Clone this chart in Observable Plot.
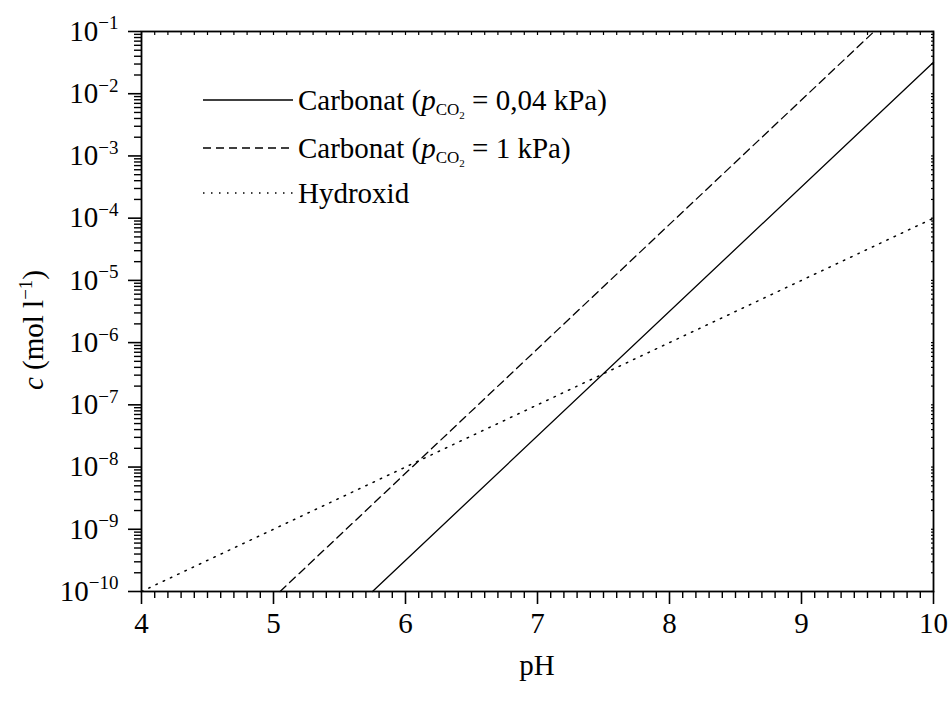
<!DOCTYPE html>
<html>
<head>
<meta charset="utf-8">
<script src="https://cdn.jsdelivr.net/npm/d3@7"></script>
<script src="https://cdn.jsdelivr.net/npm/@observablehq/plot@0.6"></script>
<style>
  html, body { margin: 0; padding: 0; background: #fff; }
  #chart { position: relative; width: 950px; height: 707px; }
  svg { font-family: "Liberation Serif", "DejaVu Serif", serif; }
</style>
</head>
<body>
<div id="chart"></div>
<script>
// Data (pH vs concentration c in mol/l)
const solidPH = [5.75, 10.0];
const solidC = [1e-10, 3.2e-2];
const dashedPH = [5.05, 9.55];
const dashedC = [1e-10, 1e-1];
const dottedPH = [4.0, 10.0];
const dottedC = [1e-10, 1e-4];

const seriesNames = ["Carbonat (pCO2 = 0,04 kPa)", "Carbonat (pCO2 = 1 kPa)", "Hydroxid"];
const xTicks = [4, 5, 6, 7, 8, 9, 10];
const yExponents = [-10, -9, -8, -7, -6, -5, -4, -3, -2, -1];

const toRows = (xs, ys) => xs.map((x, i) => ({pH: x, c: ys[i]}));
const solid = toRows(solidPH, solidC);
const dashed = toRows(dashedPH, dashedC);
const dotted = toRows(dottedPH, dottedC);

const majorY = yExponents.map(e => Math.pow(10, e));
const minorY = [];
for (const e of yExponents.slice(0, -1)) for (let k = 2; k <= 9; k++) minorY.push(k * Math.pow(10, e));
const minorX = [];
for (let i = 0; i <= 60; i++) { const v = 4 + i / 10; if (i % 10 !== 0) minorX.push(+v.toFixed(1)); }
const allX = minorX.concat(xTicks);
const allY = minorY.concat(majorY);

const W = 950, H = 707;
const fs = 29;
const sup = 19;

const plot = Plot.plot({
  width: W,
  height: H,
  marginLeft: 141,
  marginRight: 17,
  marginTop: 31,
  marginBottom: 116,
  style: {fontFamily: '"Liberation Serif", serif', fontSize: fs + "px", color: "#000", background: "#fff", overflow: "visible"},
  x: {domain: [4, 10]},
  y: {type: "log", domain: [1e-10, 1e-1]},
  marks: [
    Plot.line(solid, {x: "pH", y: "c", stroke: "#000", strokeWidth: 1.3}),
    Plot.line(dashed, {x: "pH", y: "c", stroke: "#000", strokeWidth: 1.3, strokeDasharray: "8,5"}),
    Plot.line(dotted, {x: "pH", y: "c", stroke: "#000", strokeWidth: 1.5, strokeDasharray: "1.5,6.5"}),
    // bottom axis: major + minor outward
    Plot.axisX(xTicks, {anchor: "bottom", tickSize: 13, tickPadding: 8, strokeWidth: 1.6, fontSize: fs, label: null,
      tickFormat: d => String(d)}),
    Plot.axisX(minorX, {anchor: "bottom", tickSize: 7, strokeWidth: 1.4, tickFormat: () => "", label: null}),
    // top axis: small inward ticks
    Plot.axisX(allX, {anchor: "top", tickSize: -3, strokeWidth: 1.2, tickFormat: () => "", label: null}),
    // left axis
    Plot.axisY(majorY, {anchor: "left", tickSize: 13, tickPadding: 10, strokeWidth: 1.6, fontSize: fs, label: null,
      tickFormat: d => "E" + Math.round(Math.log10(d))}),
    Plot.axisY(minorY, {anchor: "left", tickSize: 7, strokeWidth: 1.4, tickFormat: () => "", label: null}),
    // right axis: small inward ticks
    Plot.axisY(allY, {anchor: "right", tickSize: -3, strokeWidth: 1.2, tickFormat: () => "", label: null}),
    Plot.frame({stroke: "#000", strokeWidth: 1.8})
  ]
});

document.getElementById("chart").appendChild(plot);
const svg = d3.select(plot);

// Rebuild y tick labels as 10 with superscript exponent
svg.selectAll("text").each(function() {
  const t = d3.select(this);
  const s = this.textContent;
  if (/^E-\d+$/.test(s)) {
    const n = s.slice(2);
    t.text("");
    t.append("tspan").text("10");
    t.append("tspan").attr("font-size", sup).attr("dy", "-0.6em").text("\u2212" + n);
  }
});

const g = svg.append("g")
  .attr("font-family", '"Liberation Serif", serif')
  .attr("fill", "#000")
  .attr("text-anchor", "start");

// y-axis label
const yl = g.append("text")
  .attr("transform", "translate(43,330) rotate(-90)")
  .attr("text-anchor", "middle")
  .attr("font-size", fs);
yl.append("tspan").attr("font-style", "italic").text("c");
yl.append("tspan").text(" (mol l");
yl.append("tspan").attr("font-size", sup).attr("dy", "-0.6em").text("\u22121");
yl.append("tspan").attr("font-size", fs).attr("dy", "0.39em").text(")");

// x-axis label
g.append("text").attr("x", 537).attr("y", 675).attr("text-anchor", "middle").attr("font-size", fs).text("pH");

// legend
const legendRows = [
  {y: 100, dash: null, name: seriesNames[0], sw: 1.3},
  {y: 148, dash: "8,5", name: seriesNames[1], sw: 1.3},
  {y: 193, dash: "1.5,6.5", name: seriesNames[2], sw: 1.5}
];
legendRows.forEach((r, i) => {
  g.append("line").attr("x1", 203).attr("x2", 293).attr("y1", r.y).attr("y2", r.y)
    .attr("stroke", "#000").attr("stroke-width", r.sw).attr("stroke-dasharray", r.dash);
  const t = g.append("text").attr("x", 298).attr("y", r.y + 10).attr("font-size", fs).attr("text-anchor", "start");
  if (i < 2) {
    const rest = i === 0 ? " = 0,04 kPa)" : " = 1 kPa)";
    t.append("tspan").text("Carbonat (");
    t.append("tspan").attr("font-style", "italic").text("p");
    t.append("tspan").attr("font-size", 17).attr("dy", 5).text("CO");
    t.append("tspan").attr("font-size", 11).attr("dy", 4).text("2");
    t.append("tspan").attr("font-size", fs).attr("dy", -9).text(rest);
  } else {
    t.text(r.name);
  }
});
</script>
</body>
</html>
